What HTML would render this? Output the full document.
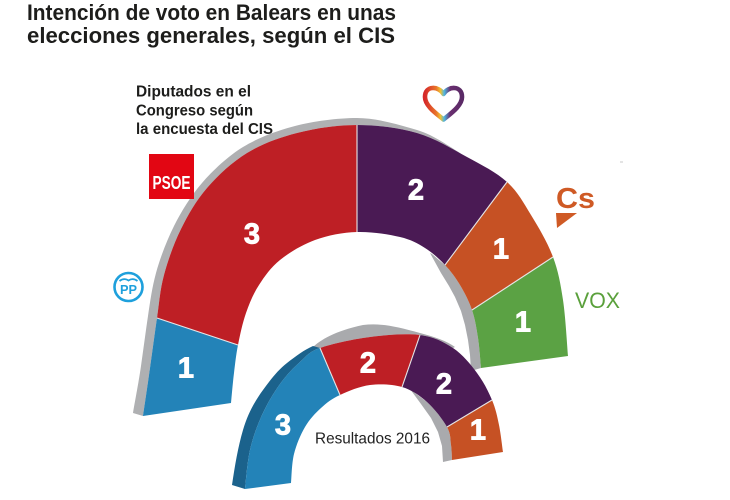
<!DOCTYPE html>
<html>
<head>
<meta charset="utf-8">
<style>
html,body{margin:0;padding:0;background:#fff;}
svg{display:block;}
</style>
</head>
<body>
<svg width="730" height="500" viewBox="0 0 730 500" xmlns="http://www.w3.org/2000/svg">
  <defs>
    <linearGradient id="hg" x1="0" y1="0" x2="1" y2="0">
      <stop offset="0" stop-color="#d62a2a"/>
      <stop offset="0.3" stop-color="#e8742a"/>
      <stop offset="0.42" stop-color="#f1c232"/>
      <stop offset="0.52" stop-color="#4fb7e0"/>
      <stop offset="0.68" stop-color="#6a2f70"/>
      <stop offset="1" stop-color="#5a2a66"/>
    </linearGradient>
  </defs>
  <rect width="730" height="500" fill="#ffffff"/>

  <!-- Title -->
  <g font-family="'Liberation Sans', Arial, sans-serif" font-weight="bold" fill="#1d1d1b" font-size="22.5">
    <text x="27" y="20" textLength="369" lengthAdjust="spacingAndGlyphs">Intención de voto en Balears en unas</text>
    <text x="27" y="43" textLength="368" lengthAdjust="spacingAndGlyphs">elecciones generales, según el CIS</text>
  </g>

  <!-- Subtitle -->
  <g font-family="'Liberation Sans', Arial, sans-serif" font-weight="bold" fill="#1d1d1b" font-size="16">
    <text x="136" y="96.3" textLength="115" lengthAdjust="spacingAndGlyphs">Diputados en el</text>
    <text x="136" y="115.5" textLength="117" lengthAdjust="spacingAndGlyphs">Congreso según</text>
    <text x="136" y="134" textLength="137" lengthAdjust="spacingAndGlyphs">la encuesta del CIS</text>
  </g>

  <!-- BIG ARCH: gray rim -->
  <path fill="#afb0b2" d="M133,413 C134.2,405 138.7,382.3 141,366 C143.3,349.7 145.7,331.5 148,316 C150.3,300.5 152,287.8 156,273 C160,258.2 166.8,240.5 174,226 C181.2,211.5 191,195.7 202,183 C213,170.3 228,156.2 243,147 C258,137.8 276.7,130.7 295,126 C313.3,121.3 337,118 357,118 C377,118 398.7,124.7 417,130 C435.3,135.3 452,148.8 467,157 C452,148.8 435.3,138.3 417,133 C398.7,127.7 377,125 357,125 C337,125 315.3,128.3 297,133 C278.7,137.7 262,143.8 247,153 C232,162.2 218,175.3 207,188 C196,200.7 188.2,214.5 181,229 C173.8,243.5 168,260.2 164,275 C160,289.8 159.3,302.5 157,318 C154.7,333.5 152.3,351.7 150,368 C147.7,384.3 144.2,408 143,416 Z"/>
  <!-- gray inner shadow right -->
  <path fill="#a9aaad" d="M430,253 L432,254 C436,257.5 440,261 445,265 C450.8,271.2 455.5,277.5 460,285 C464.5,292.5 469,301.2 472,310 C475,318.8 476.5,328.3 478,338 C479.5,347.7 480.5,363 481,368 L471,371 L470,355 L468,340 L465,325 L461,311 L455,297 L449,286 L441,273 Z"/>

  <!-- PP -->
  <path fill="#2383b8" d="M143,416 C144.2,408 147.7,384.3 150,368 C152.3,351.7 154.7,333.5 157,318 L238,345 C236,355 235.2,363.3 234,373 C232.8,382.7 231.5,398 231,403 Z"/>
  <!-- PSOE -->
  <path fill="#be1f25" d="M157,318 C159.3,302.5 160,289.8 164,275 C168,260.2 173.8,243.5 181,229 C188.2,214.5 196,200.7 207,188 C218,175.3 232,162.2 247,153 C262,143.8 278.7,137.7 297,133 C315.3,128.3 337,125 357,125 L357,232 C342.8,232.5 327.8,235.3 315,240 C302.2,244.7 289.3,252.5 280,260 C270.7,267.5 264.7,276.2 259,285 C253.3,293.8 249.5,303 246,313 C242.5,323 240,335 238,345 Z"/>
  <!-- Podemos -->
  <path fill="#4a1a54" d="M357,125 C377,125 398.7,127.7 417,133 C435.3,138.3 452,148.8 467,157 C482,165.2 496.3,172.3 507,182 L445,265 C439.2,258.8 432.5,252.7 425,248 C417.5,243.3 411.3,239.7 400,237 C388.7,234.3 371.2,231.5 357,232 Z"/>
  <!-- Cs -->
  <path fill="#c65124" d="M507,182 C517.7,191.7 523.3,202.5 531,215 C538.7,227.5 547.7,242.8 553,257 L472,310 C469,301.2 464.5,292.5 460,285 C455.5,277.5 450.8,271.2 445,265 Z"/>
  <!-- VOX -->
  <path fill="#5ba244" d="M553,257 C558.3,271.2 560.5,283.5 563,300 C565.5,316.5 567.2,346.7 568,356 L481,368 C480.5,363 479.5,347.7 478,338 C476.5,328.3 475,318.8 472,310 Z"/>
  <!-- separators -->
  <g stroke="#e6e6e6" stroke-width="1.1">
    <line x1="157" y1="318" x2="238" y2="345"/>
    <line x1="357" y1="125" x2="357" y2="232"/>
    <line x1="507" y1="182" x2="445" y2="265"/>
    <line x1="553" y1="257" x2="472" y2="310"/>
  </g>

  <!-- SMALL ARCH -->
  <path fill="#a9aaad" d="M312,348 C320,340 335,331 363,325 C380,323 395,326 420,333 C435,337 447,341 455,347 L453,348 C443.5,341.7 433.8,336.8 420,335 C406.2,333.2 386.7,334.8 370,337 C353.3,339.2 331.7,343.8 320,348 Z"/>
  <path fill="#a9aaad" d="M410,389 L427,402 C434.5,408.7 443,419.8 447,427 C451,434.2 450.2,439.5 451,445 C451.8,450.5 451.8,457.5 452,460 L443,462 L442,446 L438,432 L431,418 L421,404 Z"/>
  <path fill="#1b628c" d="M232,485 C235,465 238,447 243,430 C248,413 255,401 263,390 C271,379 278,370 287,363 C296,356 304,350 313,346 L320,348 C308.3,352.2 306.7,356 300,362 C293.3,368 286.3,375.2 280,384 C273.7,392.8 267,404 262,415 C257,426 252.8,437.7 250,450 C247.2,462.3 245.8,482.5 245,489 Z"/>
  <path fill="#2383b8" d="M245,489 C245.8,482.5 247.2,462.3 250,450 C252.8,437.7 257,426 262,415 C267,404 273.7,392.8 280,384 C286.3,375.2 293.3,368 300,362 C306.7,356 308.3,352.2 320,348 L340,395 C331.8,398.8 326.8,402.7 321,408 C315.2,413.3 309.5,419.3 305,427 C300.5,434.7 296.3,444.7 294,454 C291.7,463.3 291.5,478.2 291,483 Z"/>
  <path fill="#be1f25" d="M320,348 C331.7,343.8 353.3,339.2 370,337 C386.7,334.8 406.2,333.2 420,335 L402,387 C392.5,384.2 380.3,383.7 370,385 C359.7,386.3 348.2,391.2 340,395 Z"/>
  <path fill="#4a1a54" d="M420,335 C433.8,336.8 443.5,341.7 453,348 C462.5,354.3 470.5,364.3 477,373 C483.5,381.7 488.3,391.3 492,400 L447,427 C443,419.8 434.5,408.7 427,402 C419.5,395.3 411.5,389.8 402,387 Z"/>
  <path fill="#c65124" d="M492,400 C495.7,408.7 497.2,416.3 499,425 C500.8,433.7 502.3,447.5 503,452 L452,460 C451.8,457.5 451.8,450.5 451,445 C450.2,439.5 451,434.2 447,427 Z"/>
  <g stroke="#e6e6e6" stroke-width="1.1">
    <line x1="320" y1="348" x2="340" y2="395"/>
    <line x1="420" y1="335" x2="402" y2="387"/>
    <line x1="492" y1="400" x2="447" y2="427"/>
  </g>

  <!-- Numbers -->
  <g font-family="'Liberation Sans', Arial, sans-serif" font-weight="bold" fill="#ffffff" stroke="#ffffff" stroke-width="0.9" font-size="29" text-anchor="middle">
    <text x="186" y="377.5">1</text>
    <text x="252" y="243.5">3</text>
    <text x="416" y="199.5">2</text>
    <text x="501" y="258.5">1</text>
    <text x="523" y="331.5">1</text>
    <text x="283" y="434.5">3</text>
    <text x="368" y="372.5">2</text>
    <text x="444" y="393.5">2</text>
    <text x="478" y="439.5">1</text>
  </g>

  <text x="315" y="443.5" font-family="'Liberation Sans', Arial, sans-serif" font-size="16" fill="#222" textLength="115" lengthAdjust="spacingAndGlyphs">Resultados 2016</text>

  <!-- PSOE logo -->
  <rect x="149" y="154" width="45" height="45" fill="#e20613"/>
  <text x="152.5" y="189" font-family="'Liberation Sans', Arial, sans-serif" font-weight="bold" font-size="18.5" fill="#ffffff" textLength="38" lengthAdjust="spacingAndGlyphs">PSOE</text>

  <!-- PP logo -->
  <circle cx="128.5" cy="287" r="14" fill="#ffffff" stroke="#1ea0dc" stroke-width="2.6"/>
  <path d="M119.5,281 Q124,277.5 128.5,280.5 Q133,277.5 137.5,281" fill="none" stroke="#1ea0dc" stroke-width="1.8"/>
  <text x="128.5" y="294" font-family="'Liberation Sans', Arial, sans-serif" font-weight="bold" font-size="13" fill="#1ea0dc" text-anchor="middle" textLength="17" lengthAdjust="spacingAndGlyphs">PP</text>

  <!-- Heart logo -->
  <path d="M443.5,94 C439,86 425,85 425,97 C425,106 437,114 443.5,119.5 C450,114 462,106 462,97 C462,85 448,86 443.5,94 Z" fill="none" stroke="url(#hg)" stroke-width="4.6" stroke-linejoin="round"/>

  <!-- Cs logo -->
  <text x="556" y="208" font-family="'Liberation Sans', Arial, sans-serif" font-weight="bold" font-size="29" fill="#cf5a25" textLength="39" lengthAdjust="spacingAndGlyphs">Cs</text>
  <polygon points="556,213 577,213 557,228" fill="#cf5a25"/>

  <!-- VOX logo -->
  <text x="575" y="308" font-family="'Liberation Sans', Arial, sans-serif" font-size="22" fill="#5aa03b" textLength="45" lengthAdjust="spacingAndGlyphs">VOX</text>

  <rect x="620" y="161.5" width="3" height="1" fill="#c8c8c8"/>
</svg>
</body>
</html>
